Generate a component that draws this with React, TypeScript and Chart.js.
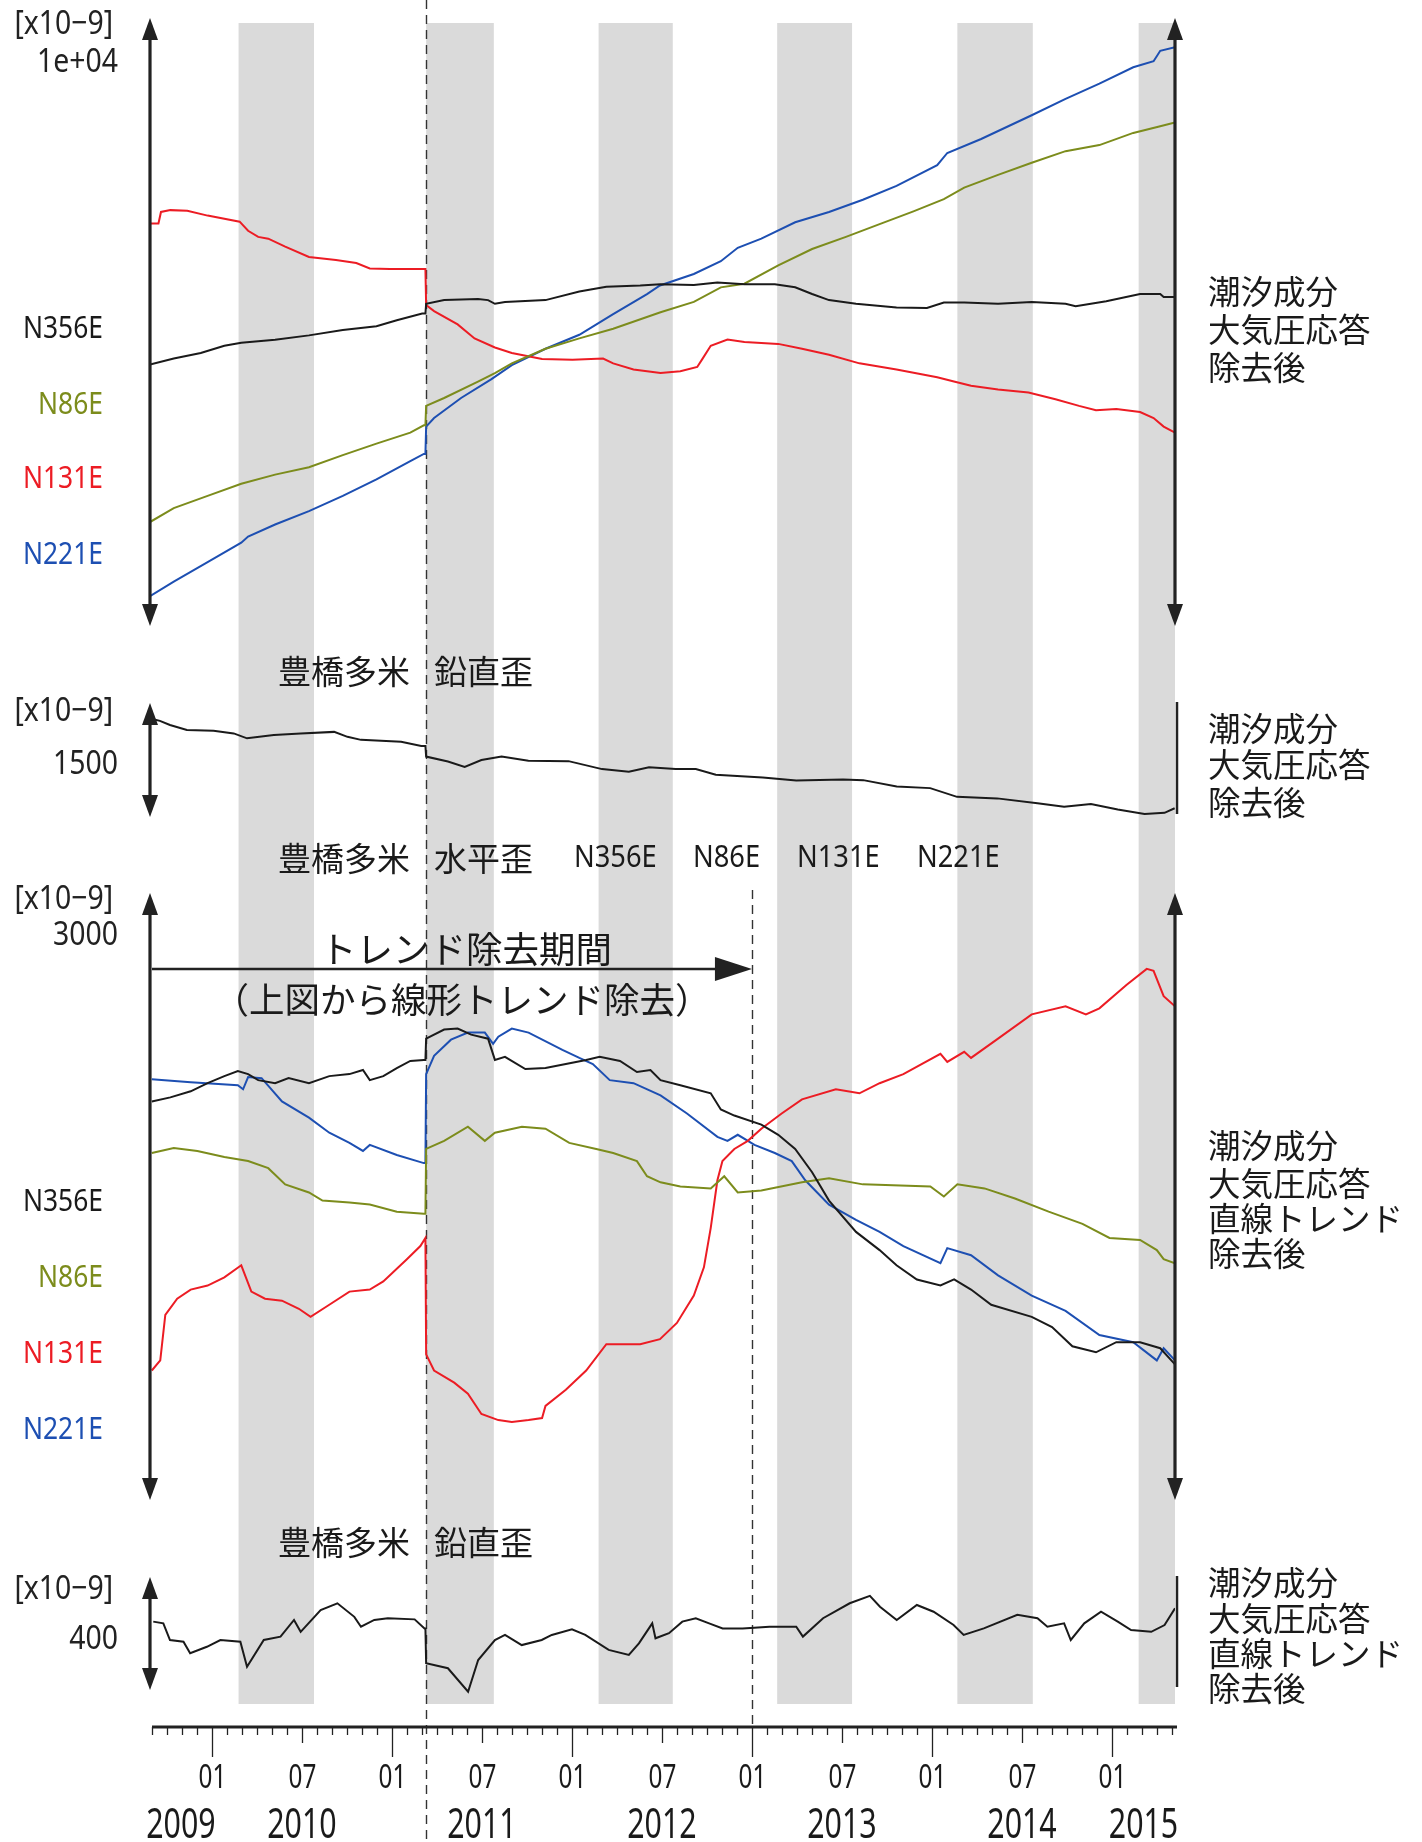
import React, { useEffect, useRef } from 'react';
import { Chart, registerables } from 'chart.js';

Chart.register(...registerables);

// ---------- data (x in decimal years, y in x10^-9 strain) ----------
const X_MIN = 2009.656;
const X_MAX = 2015.35;
const QUAKE = 2011.19;          // dashed line (2011-03-11)
const TREND_END = 2013.0;       // end of trend removal period

const grayBands: [number, number][] = [
  [2010.148, 2010.567], [2011.19, 2011.566], [2012.148, 2012.56],
  [2013.14, 2013.556], [2014.141, 2014.56], [2015.148, 2015.35],
];

const monthLabels: Record<number, string> = { 0: '01', 6: '07' };
const yearLabels = ['2009', '2010', '2011', '2012', '2013', '2014', '2015'];
const seriesNames = ['N356E', 'N86E', 'N131E', 'N221E'];

// Panel 1: horizontal strain, tide & pressure removed
const topN356E = [[2009.656,4300],[2009.788,4400],[2009.938,4490],[2010.069,4610],[2010.163,4660],[2010.351,4710],[2010.539,4780],[2010.727,4870],[2010.914,4930],[2011.027,5030],[2011.168,5140],[2011.186,5140],[2011.19,5300],[2011.29,5360],[2011.478,5380],[2011.534,5360],[2011.572,5300],[2011.628,5330],[2011.853,5360],[2012.041,5500],[2012.191,5580],[2012.379,5600],[2012.492,5620],[2012.677,5610],[2012.808,5650],[2012.958,5620],[2013.127,5620],[2013.24,5570],[2013.334,5460],[2013.428,5360],[2013.578,5300],[2013.803,5240],[2013.972,5230],[2014.066,5320],[2014.179,5320],[2014.367,5300],[2014.554,5330],[2014.742,5300],[2014.798,5260],[2014.968,5340],[2015.156,5460],[2015.268,5460],[2015.287,5410],[2015.35,5410]];
const topN86E = [[2009.656,1710],[2009.788,1940],[2009.976,2140],[2010.163,2340],[2010.351,2490],[2010.539,2610],[2010.727,2810],[2010.914,3000],[2011.102,3180],[2011.177,3300],[2011.186,3300],[2011.19,3620],[2011.29,3750],[2011.478,4020],[2011.572,4160],[2011.666,4320],[2011.853,4560],[2012.041,4730],[2012.229,4890],[2012.492,5160],[2012.677,5330],[2012.827,5570],[2012.958,5630],[2013.146,5930],[2013.334,6200],[2013.522,6400],[2013.709,6610],[2013.897,6820],[2014.066,7020],[2014.179,7210],[2014.367,7420],[2014.554,7620],[2014.742,7810],[2014.93,7910],[2015.118,8110],[2015.268,8220],[2015.35,8280]];
const topN131E = [[2009.656,6620],[2009.703,6620],[2009.717,6810],[2009.769,6840],[2009.863,6830],[2009.976,6750],[2010.154,6650],[2010.201,6500],[2010.257,6400],[2010.313,6370],[2010.407,6240],[2010.539,6070],[2010.689,6020],[2010.802,5970],[2010.877,5880],[2010.989,5870],[2011.14,5870],[2011.186,5870],[2011.19,5280],[2011.234,5180],[2011.365,4960],[2011.459,4730],[2011.572,4580],[2011.666,4490],[2011.834,4390],[2012.003,4380],[2012.173,4400],[2012.229,4320],[2012.342,4220],[2012.492,4160],[2012.602,4190],[2012.696,4260],[2012.724,4390],[2012.771,4610],[2012.864,4710],[2012.958,4670],[2013.146,4640],[2013.278,4560],[2013.428,4460],[2013.597,4320],[2013.803,4220],[2014.029,4090],[2014.122,4020],[2014.217,3950],[2014.367,3890],[2014.536,3840],[2014.686,3730],[2014.817,3620],[2014.911,3550],[2015.024,3570],[2015.156,3520],[2015.231,3420],[2015.287,3280],[2015.35,3180]];
const topN221E = [[2009.656,490],[2009.788,730],[2009.976,1050],[2010.163,1370],[2010.201,1470],[2010.351,1670],[2010.539,1890],[2010.727,2140],[2010.914,2410],[2011.102,2710],[2011.177,2830],[2011.186,2830],[2011.19,3280],[2011.234,3420],[2011.384,3750],[2011.553,4060],[2011.666,4290],[2011.853,4560],[2012.041,4790],[2012.229,5130],[2012.417,5460],[2012.489,5600],[2012.677,5790],[2012.827,6000],[2012.921,6220],[2013.052,6370],[2013.24,6640],[2013.428,6810],[2013.616,7010],[2013.803,7240],[2014.029,7580],[2014.085,7780],[2014.273,8010],[2014.554,8400],[2014.742,8670],[2014.93,8920],[2015.118,9190],[2015.231,9290],[2015.268,9460],[2015.35,9520]];

// Panel 2: vertical strain, tide & pressure removed
const vertRaw = [[2009.674,1285],[2009.711,1265],[2009.767,1210],[2009.861,1145],[2010.009,1135],[2010.121,1100],[2010.195,1035],[2010.344,1080],[2010.493,1100],[2010.679,1120],[2010.753,1055],[2010.828,1015],[2011.051,990],[2011.163,935],[2011.186,935],[2011.19,795],[2011.311,730],[2011.404,660],[2011.497,750],[2011.609,795],[2011.758,740],[2011.981,735],[2012.167,630],[2012.316,595],[2012.428,655],[2012.576,630],[2012.688,630],[2012.799,555],[2013.06,520],[2013.246,480],[2013.506,495],[2013.618,485],[2013.804,400],[2013.99,380],[2014.139,265],[2014.362,245],[2014.586,180],[2014.734,135],[2014.883,170],[2015.032,100],[2015.181,40],[2015.292,55],[2015.348,115]];

// Panel 3: horizontal strain, linear trend removed
const detN356E = [[2009.666,1970],[2009.769,1990],[2009.882,2020],[2009.976,2060],[2010.069,2095],[2010.144,2120],[2010.201,2105],[2010.257,2075],[2010.351,2060],[2010.426,2085],[2010.539,2060],[2010.652,2095],[2010.764,2105],[2010.839,2125],[2010.877,2075],[2010.952,2095],[2011.027,2135],[2011.102,2170],[2011.177,2175],[2011.186,2175],[2011.19,2280],[2011.29,2325],[2011.365,2330],[2011.44,2300],[2011.534,2280],[2011.572,2175],[2011.628,2190],[2011.741,2130],[2011.853,2135],[2011.966,2155],[2012.079,2175],[2012.154,2190],[2012.267,2170],[2012.361,2115],[2012.436,2125],[2012.492,2075],[2012.602,2050],[2012.771,2010],[2012.827,1930],[2012.902,1900],[2013.052,1855],[2013.146,1805],[2013.24,1735],[2013.334,1620],[2013.428,1480],[2013.578,1325],[2013.709,1235],[2013.803,1160],[2013.916,1090],[2014.047,1060],[2014.123,1090],[2014.217,1040],[2014.329,965],[2014.554,905],[2014.667,855],[2014.78,760],[2014.911,730],[2015.024,780],[2015.156,780],[2015.268,750],[2015.35,670]];
const detN86E = [[2009.666,1715],[2009.788,1740],[2009.919,1725],[2010.069,1695],[2010.201,1675],[2010.313,1640],[2010.407,1560],[2010.539,1520],[2010.614,1480],[2010.764,1470],[2010.877,1460],[2011.027,1425],[2011.177,1415],[2011.186,1415],[2011.19,1735],[2011.29,1775],[2011.422,1845],[2011.516,1775],[2011.572,1815],[2011.722,1845],[2011.853,1835],[2011.985,1765],[2012.135,1735],[2012.229,1715],[2012.361,1675],[2012.417,1600],[2012.492,1570],[2012.602,1550],[2012.771,1540],[2012.846,1600],[2012.921,1520],[2013.052,1530],[2013.278,1570],[2013.428,1590],[2013.616,1560],[2013.991,1550],[2014.066,1500],[2014.141,1560],[2014.292,1540],[2014.461,1490],[2014.648,1425],[2014.836,1365],[2014.986,1295],[2015.156,1285],[2015.249,1235],[2015.287,1190],[2015.35,1170]];
const detN131E = [[2009.666,640],[2009.713,690],[2009.741,915],[2009.807,995],[2009.882,1040],[2009.976,1060],[2010.069,1100],[2010.163,1160],[2010.219,1030],[2010.295,995],[2010.389,985],[2010.483,945],[2010.548,905],[2010.652,965],[2010.764,1030],[2010.877,1040],[2010.952,1080],[2011.083,1190],[2011.158,1255],[2011.186,1295],[2011.19,720],[2011.234,640],[2011.346,580],[2011.422,525],[2011.497,425],[2011.591,395],[2011.666,385],[2011.759,395],[2011.834,405],[2011.853,465],[2011.966,545],[2012.079,640],[2012.191,770],[2012.267,770],[2012.379,770],[2012.489,795],[2012.583,875],[2012.677,1010],[2012.733,1150],[2012.771,1345],[2012.808,1580],[2012.836,1675],[2012.902,1735],[2012.977,1775],[2013.052,1835],[2013.165,1910],[2013.278,1980],[2013.466,2030],[2013.597,2010],[2013.709,2060],[2013.841,2105],[2014.047,2205],[2014.085,2165],[2014.179,2215],[2014.217,2185],[2014.367,2280],[2014.554,2400],[2014.742,2440],[2014.855,2400],[2014.93,2430],[2015.08,2545],[2015.193,2625],[2015.231,2615],[2015.287,2490],[2015.35,2440]];
const detN221E = [[2009.666,2080],[2009.882,2065],[2010.144,2050],[2010.173,2030],[2010.201,2090],[2010.276,2085],[2010.389,1970],[2010.539,1890],[2010.652,1815],[2010.764,1765],[2010.839,1725],[2010.877,1755],[2011.027,1705],[2011.177,1665],[2011.186,1665],[2011.19,2105],[2011.234,2195],[2011.328,2275],[2011.422,2310],[2011.516,2310],[2011.562,2255],[2011.591,2290],[2011.666,2330],[2011.759,2310],[2011.947,2225],[2012.041,2185],[2012.116,2155],[2012.21,2075],[2012.342,2060],[2012.492,2000],[2012.639,1910],[2012.808,1795],[2012.864,1775],[2012.921,1805],[2013.014,1755],[2013.127,1715],[2013.221,1675],[2013.296,1580],[2013.428,1460],[2013.578,1385],[2013.709,1325],[2013.841,1255],[2014.047,1170],[2014.085,1245],[2014.217,1210],[2014.367,1110],[2014.554,1010],[2014.742,935],[2014.93,815],[2015.118,780],[2015.249,690],[2015.287,750],[2015.35,690]];

// Panel 4: vertical strain, linear trend removed
const vertDetrended = [[2009.674,242],[2009.73,236],[2009.767,177],[2009.842,171],[2009.879,130],[2009.972,153],[2010.047,177],[2010.158,171],[2010.195,82],[2010.288,177],[2010.381,189],[2010.456,248],[2010.493,206],[2010.604,283],[2010.697,307],[2010.791,259],[2010.828,224],[2010.902,248],[2010.977,254],[2011.126,250],[2011.181,218],[2011.186,218],[2011.19,95],[2011.311,77],[2011.423,-6],[2011.479,106],[2011.572,177],[2011.628,195],[2011.721,159],[2011.832,177],[2011.888,195],[2012.0,215],[2012.074,195],[2012.204,142],[2012.316,124],[2012.372,165],[2012.446,236],[2012.464,183],[2012.539,201],[2012.613,242],[2012.688,254],[2012.762,236],[2012.837,218],[2012.948,218],[2013.097,224],[2013.246,224],[2013.283,189],[2013.395,254],[2013.543,307],[2013.655,333],[2013.711,295],[2013.804,248],[2013.916,301],[2014.009,277],[2014.12,230],[2014.176,195],[2014.288,218],[2014.474,266],[2014.586,254],[2014.641,224],[2014.734,236],[2014.771,177],[2014.846,236],[2014.939,277],[2015.032,242],[2015.106,212],[2015.218,206],[2015.292,230],[2015.35,289]];

// ---------- layout / style constants ----------
const W = 1422, HGT = 1842;
const PAD = { left: 150, right: 247, top: 0, bottom: 112 };
const AREA_H = HGT - PAD.top - PAD.bottom;
const PANELS = [
  { id: 'y1', top: 18, bottom: 626, span: 10000, scaleLabel: '1e+04', unitY: 25, labelY: 63, rightArrow: true },
  { id: 'y2', top: 703, bottom: 817, span: 1500, scaleLabel: '1500', unitY: 712, labelY: 765, rightArrow: false },
  { id: 'y3', top: 893, bottom: 1500, span: 3000, scaleLabel: '3000', unitY: 900, labelY: 936, rightArrow: true },
  { id: 'y4', top: 1577, bottom: 1690, span: 400, scaleLabel: '400', unitY: 1590, labelY: 1640, rightArrow: false },
];
const C_BLACK = '#1a1a1a', C_OLIVE = '#7c8c1c', C_RED = '#ec1c24', C_BLUE = '#1d4fb2';
const SERIES_COLORS = [C_BLACK, C_OLIVE, C_RED, C_BLUE];
const BAND_COLOR = '#dadada';
const BAND_TOP = 23, BAND_BOTTOM = 1704;
const AXIS_Y = 1727;
const LATIN = '"Noto Sans", "DejaVu Sans", sans-serif';
const CJK = '"Noto Sans CJK JP", "Noto Sans CJK SC", sans-serif';

function axisRange(top: number, bottom: number, span: number) {
  const k = span / (bottom - top);
  return { min: -(PAD.top + AREA_H - bottom) * k, max: (bottom - PAD.top) * k };
}

function txt(ctx: CanvasRenderingContext2D, s: string, x: number, y: number, font: string, color: string, align: CanvasTextAlign, sx = 1) {
  ctx.save();
  ctx.font = font;
  ctx.fillStyle = color;
  ctx.textBaseline = 'middle';
  ctx.textAlign = align;
  ctx.translate(x, y);
  ctx.scale(sx, 1);
  ctx.fillText(s, 0, 0);
  ctx.restore();
}

function vArrow(ctx: CanvasRenderingContext2D, x: number, yTop: number, yBot: number, heads: boolean, lw: number) {
  const HL = 22, HW = 8;
  ctx.lineWidth = lw;
  ctx.beginPath();
  ctx.moveTo(x, heads ? yTop + HL - 2 : yTop);
  ctx.lineTo(x, heads ? yBot - HL + 2 : yBot);
  ctx.stroke();
  if (heads) {
    ctx.beginPath();
    ctx.moveTo(x, yTop); ctx.lineTo(x - HW, yTop + HL); ctx.lineTo(x + HW, yTop + HL); ctx.closePath(); ctx.fill();
    ctx.beginPath();
    ctx.moveTo(x, yBot); ctx.lineTo(x - HW, yBot - HL); ctx.lineTo(x + HW, yBot - HL); ctx.closePath(); ctx.fill();
  }
}

const overlay = {
  id: 'overlay',
  beforeDatasetsDraw(chart: any) {
    const { ctx, scales } = chart;
    const x = scales.x;
    ctx.save();
    ctx.fillStyle = BAND_COLOR;
    for (const [a, b] of grayBands) {
      const x0 = x.getPixelForValue(a), x1 = x.getPixelForValue(b);
      ctx.fillRect(x0, BAND_TOP, x1 - x0, BAND_BOTTOM - BAND_TOP);
    }
    ctx.strokeStyle = '#333';
    ctx.lineWidth = 1.4;
    ctx.setLineDash([9, 6]);
    const qx = Math.round(x.getPixelForValue(QUAKE)) + 0.5;
    ctx.beginPath(); ctx.moveTo(qx, 0); ctx.lineTo(qx, HGT); ctx.stroke();
    const tx = Math.round(x.getPixelForValue(TREND_END)) + 0.5;
    ctx.beginPath(); ctx.moveTo(tx, 890); ctx.lineTo(tx, AXIS_Y); ctx.stroke();
    ctx.restore();
  },
  afterDatasetsDraw(chart: any) {
    const { ctx, scales, chartArea } = chart;
    const x = scales.x;
    ctx.save();
    ctx.strokeStyle = '#222';
    ctx.fillStyle = '#222';
    // panel arrows / side lines
    for (const p of PANELS) {
      const ys = scales[p.id];
      const yTop = ys.getPixelForValue(p.span), yBot = ys.getPixelForValue(0);
      vArrow(ctx, chartArea.left, yTop, yBot, true, 3.2);
      if (p.rightArrow) vArrow(ctx, chartArea.right, yTop, yBot, true, 3.2);
      else vArrow(ctx, chartArea.right + 2, yTop - 1, yBot - 3, false, 2.5);
      txt(ctx, '[x10\u22129]', 113, p.unitY, `33px ${LATIN}`, '#222', 'right', 0.86);
      txt(ctx, p.scaleLabel, 118, p.labelY, `33px ${LATIN}`, '#222', 'right', 0.86);
    }
    // series labels at left
    const lab1 = [329, 405, 479, 555], lab3 = [1202, 1278, 1354, 1430];
    seriesNames.forEach((n, i) => {
      txt(ctx, n, 103, lab1[i], `30px ${LATIN}`, SERIES_COLORS[i], 'right', 0.88);
      txt(ctx, n, 103, lab3[i], `30px ${LATIN}`, SERIES_COLORS[i], 'right', 0.88);
    });
    // right side notes
    const noteFont = `32.5px ${CJK}`;
    const notes: [string[], number[]][] = [
      [['潮汐成分', '大気圧応答', '除去後'], [292, 330, 368]],
      [['潮汐成分', '大気圧応答', '除去後'], [729, 765, 803]],
      [['潮汐成分', '大気圧応答', '直線トレンド', '除去後'], [1146, 1184, 1219, 1254]],
      [['潮汐成分', '大気圧応答', '直線トレンド', '除去後'], [1583, 1619, 1654, 1689]],
    ];
    for (const [lines, ys] of notes) lines.forEach((l, i) => txt(ctx, l, 1208, ys[i], noteFont, '#1a1a1a', 'left'));
    // titles
    const tFont = `33px ${CJK}`;
    txt(ctx, '豊橋多米', 278, 671, tFont, '#1a1a1a', 'left');
    txt(ctx, '鉛直歪', 434, 671, tFont, '#1a1a1a', 'left');
    txt(ctx, '豊橋多米', 278, 858, tFont, '#1a1a1a', 'left');
    txt(ctx, '水平歪', 434, 858, tFont, '#1a1a1a', 'left');
    const tl = [574, 693, 797, 917];
    seriesNames.forEach((n, i) => txt(ctx, n, tl[i], 858, `31px ${LATIN}`, '#1a1a1a', 'left', 0.88));
    txt(ctx, '豊橋多米', 278, 1542, tFont, '#1a1a1a', 'left');
    txt(ctx, '鉛直歪', 434, 1542, tFont, '#1a1a1a', 'left');
    // trend removal period arrow
    const ax0 = chartArea.left + 2, ax1 = x.getPixelForValue(TREND_END);
    const ay = 969;
    ctx.lineWidth = 2.5;
    ctx.beginPath(); ctx.moveTo(ax0, ay); ctx.lineTo(ax1 - 30, ay); ctx.stroke();
    ctx.beginPath(); ctx.moveTo(ax1, ay); ctx.lineTo(ax1 - 37, ay - 12); ctx.lineTo(ax1 - 37, ay + 12); ctx.closePath(); ctx.fill();
    txt(ctx, 'トレンド除去期間', 466, 949, `36.5px ${CJK}`, '#1a1a1a', 'center');
    txt(ctx, '（上図から線形トレンド除去）', 462, 1000, `35.5px ${CJK}`, '#1a1a1a', 'center');
    // bottom time axis
    ctx.lineWidth = 3;
    ctx.beginPath(); ctx.moveTo(chartArea.left + 2, AXIS_Y); ctx.lineTo(chartArea.right + 2, AXIS_Y); ctx.stroke();
    ctx.lineWidth = 1.3;
    for (let yr = 2009; yr <= 2015; yr++) {
      for (let m = 0; m < 12; m++) {
        const t = yr + m / 12;
        if (t < X_MIN || t > X_MAX + 0.005) continue;
        const px = Math.round(x.getPixelForValue(t)) + 0.5;
        const len = m === 0 ? 30 : m === 6 ? 16 : 8;
        ctx.beginPath(); ctx.moveTo(px, AXIS_Y); ctx.lineTo(px, AXIS_Y + len); ctx.stroke();
        if (monthLabels[m]) txt(ctx, monthLabels[m], px, 1779, `32px ${LATIN}`, '#1a1a1a', 'center', 0.76);
      }
    }
    yearLabels.forEach((yl, i) => {
      const y0 = Math.max(2009 + i, X_MIN), y1 = Math.min(2010 + i, X_MAX);
      const px = x.getPixelForValue((y0 + y1) / 2);
      txt(ctx, yl, px, 1826, `41px ${LATIN}`, '#1a1a1a', 'center', 0.74);
    });
    ctx.restore();
  },
};

function toXY(arr: number[][]) {
  return arr.map(([x, y]) => ({ x, y }));
}

export default function App() {
  const ref = useRef<HTMLCanvasElement | null>(null);
  useEffect(() => {
    document.body.style.margin = '0';
    const canvas = ref.current;
    if (!canvas) return;
    const ds = (data: number[][], color: string, yAxisID: string) => ({
      data: toXY(data), borderColor: color, borderWidth: 2, pointRadius: 0, tension: 0, yAxisID, xAxisID: 'x', fill: false,
    });
    const yScales: any = {};
    for (const p of PANELS) {
      const r = axisRange(p.top, p.bottom, p.span);
      yScales[p.id] = { type: 'linear', display: false, min: r.min, max: r.max };
    }
    const chart = new Chart(canvas, {
      type: 'line',
      data: {
        datasets: [
          ds(topN356E, C_BLACK, 'y1'), ds(topN86E, C_OLIVE, 'y1'), ds(topN131E, C_RED, 'y1'), ds(topN221E, C_BLUE, 'y1'),
          ds(vertRaw, C_BLACK, 'y2'),
          ds(detN356E, C_BLACK, 'y3'), ds(detN86E, C_OLIVE, 'y3'), ds(detN131E, C_RED, 'y3'), ds(detN221E, C_BLUE, 'y3'),
          ds(vertDetrended, C_BLACK, 'y4'),
        ] as any,
      },
      options: {
        responsive: false,
        animation: false,
        layout: { padding: PAD },
        plugins: { legend: { display: false }, tooltip: { enabled: false } },
        scales: {
          x: { type: 'linear', display: false, min: X_MIN, max: X_MAX },
          ...yScales,
        },
      },
      plugins: [overlay],
    });
    return () => chart.destroy();
  }, []);
  return (
    <div style={{ width: W, height: HGT, background: '#fff' }}>
      <canvas ref={ref} width={W} height={HGT} style={{ display: 'block' }} />
    </div>
  );
}
